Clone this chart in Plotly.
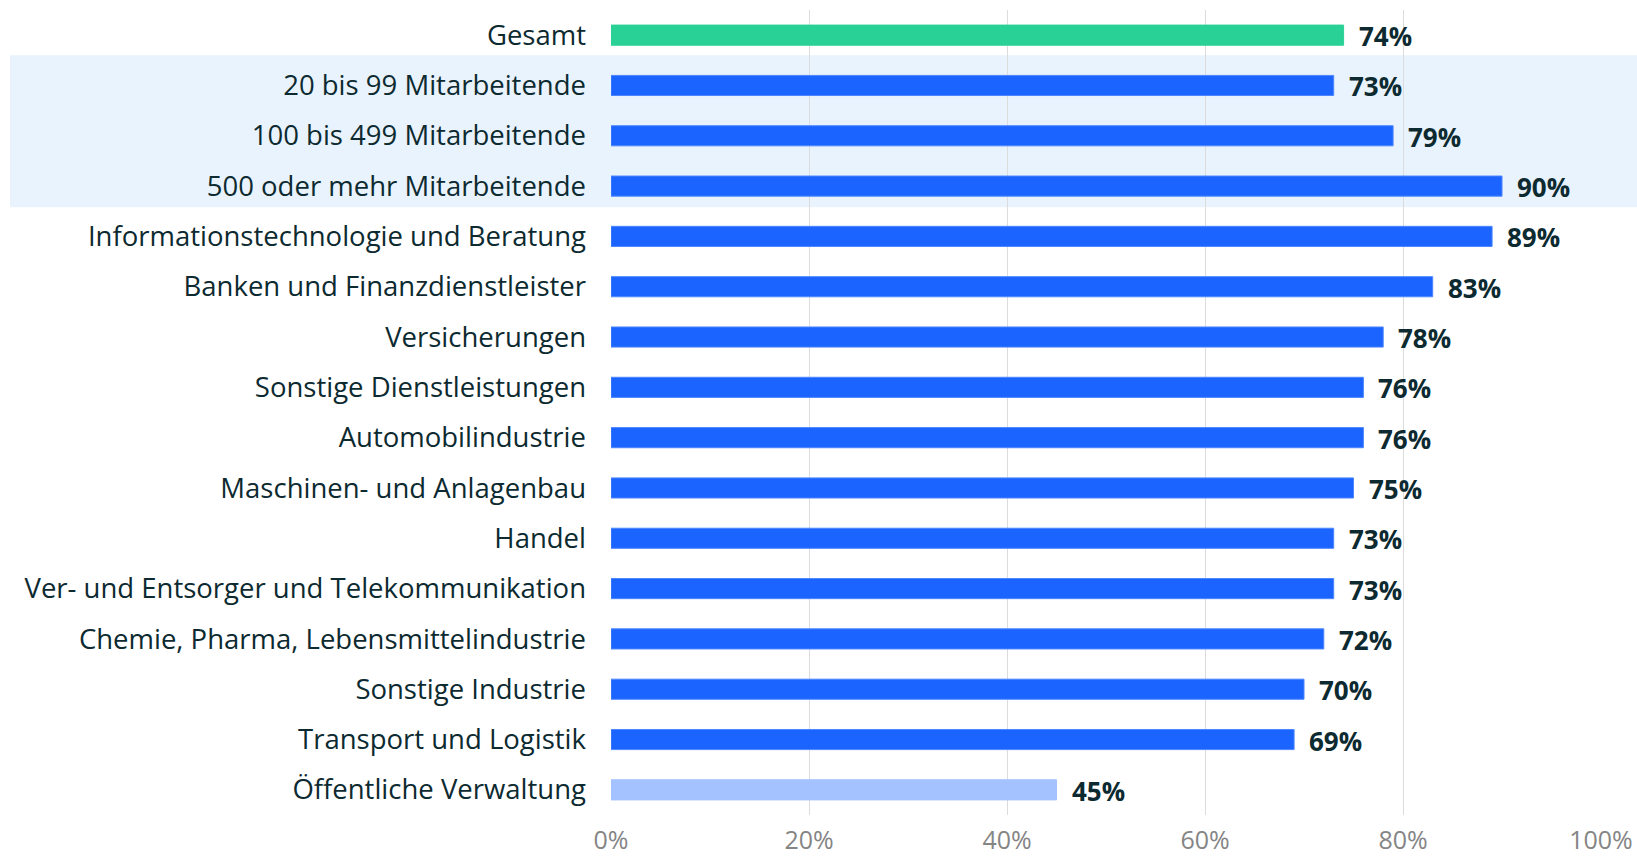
import plotly.graph_objects as go

categories = [
    "Gesamt",
    "20 bis 99 Mitarbeitende",
    "100 bis 499 Mitarbeitende",
    "500 oder mehr Mitarbeitende",
    "Informationstechnologie und Beratung",
    "Banken und Finanzdienstleister",
    "Versicherungen",
    "Sonstige Dienstleistungen",
    "Automobilindustrie",
    "Maschinen- und Anlagenbau",
    "Handel",
    "Ver- und Entsorger und Telekommunikation",
    "Chemie, Pharma, Lebensmittelindustrie",
    "Sonstige Industrie",
    "Transport und Logistik",
    "Öffentliche Verwaltung",
]
values = [74, 73, 79, 90, 89, 83, 78, 76, 76, 75, 73, 73, 72, 70, 69, 45]
tick_vals = [0, 20, 40, 60, 80, 100]
tick_text = ["0%", "20%", "40%", "60%", "80%", "100%"]

GREEN = "#2ad197"
BLUE = "#1b64ff"
LIGHT = "#a4c2ff"
DARK = "#0c2a30"

colors = [GREEN] + [BLUE] * 14 + [LIGHT]
line_colors = [GREEN] + ["#4d86ff"] * 14 + [LIGHT]

FONT = "Open Sans"

fig = go.Figure()
fig.add_trace(go.Bar(
    x=values, y=categories, orientation="h",
    marker=dict(color=colors, line=dict(color=line_colors, width=1)),
    width=0.4, hoverinfo="skip",
))

annotations = []
for c, v in zip(categories, values):
    annotations.append(dict(
        x=v, y=c, xref="x", yref="y", text=f"<b>{v}%</b>", showarrow=False,
        xanchor="left", yanchor="middle", xshift=13, yshift=-1,
        font=dict(family=FONT, size=26, color=DARK),
    ))

fig.update_layout(
    width=1637, height=857,
    margin=dict(l=611, r=36, t=10, b=42, autoexpand=False),
    paper_bgcolor="white", plot_bgcolor="rgba(0,0,0,0)",
    showlegend=False,
    annotations=annotations,
    shapes=[dict(
        type="rect", xref="paper", yref="y", layer="below",
        x0=-0.607, x1=1.05, y0=0.4, y1=3.42,
        fillcolor="#e9f3fd", line=dict(width=0),
    )],
    xaxis=dict(
        range=[0, 100], tickvals=tick_vals, ticktext=tick_text,
        showgrid=True, gridcolor="#dcdcdc", gridwidth=1,
        zeroline=False, showline=False, ticks="", automargin=False,
        tickfont=dict(family=FONT, size=25, color="#858585"),
        ticklabelstandoff=8,
    ),
    yaxis=dict(
        autorange="reversed", showgrid=False, ticks="", automargin=False,
        tickfont=dict(family=FONT, size=27.5, color=DARK),
        ticklabelstandoff=24,
    ),
)

fig.write_html(
    "out.html",
    config={"displayModeBar": False},
    post_script="document.body.style.margin='0';document.body.style.overflow='hidden';",
)
